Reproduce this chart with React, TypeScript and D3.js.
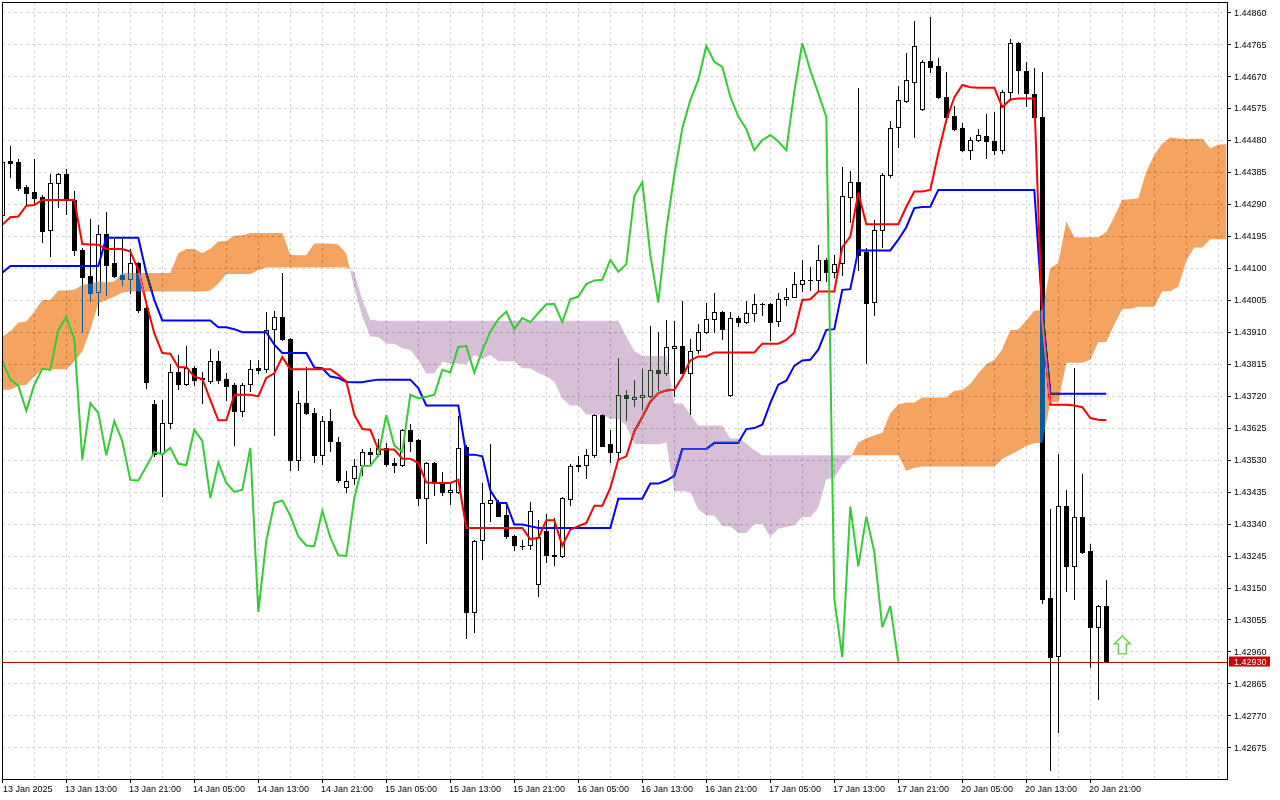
import { useMemo } from "react";
import * as d3 from "d3";

const W = 1280;
const H = 800;
const PLOT = { left: 2, right: 1227, top: 2, bottom: 779 };

// hourly bars, 13 Jan 05:00 .. 20 Jan 23:00
const OPEN = [
  1.44258, 1.44418, 1.44415, 1.44341, 1.44326, 1.44312, 1.44212, 1.44352, 1.44379, 1.44302,
  1.44154, 1.44077, 1.44028, 1.442, 1.44114, 1.4408, 1.44067, 1.44114, 1.43982, 1.43696,
  1.4355, 1.43639, 1.4379, 1.43755, 1.43804, 1.43774, 1.43763, 1.43824, 1.43771, 1.43753,
  1.43676, 1.43755, 1.43802, 1.43799, 1.43918, 1.43954, 1.43889, 1.4353, 1.43698, 1.43669,
  1.43543, 1.43645, 1.43582, 1.43449, 1.43475, 1.43513, 1.43553, 1.43547, 1.43565, 1.4352,
  1.43513, 1.43619, 1.43588, 1.43416, 1.43521, 1.43461, 1.43434, 1.43434, 1.43569, 1.43077,
  1.43292, 1.43401, 1.43403, 1.43366, 1.43304, 1.43274, 1.43275, 1.43161, 1.43317, 1.43246,
  1.43244, 1.43413, 1.43514, 1.43513, 1.43543, 1.43663, 1.43577, 1.43553, 1.43723, 1.43711,
  1.43717, 1.4372, 1.43797, 1.43789, 1.43861, 1.43868, 1.43789, 1.43855, 1.4391, 1.43948,
  1.4397, 1.43723, 1.43951, 1.43939, 1.43966, 1.43994, 1.43992, 1.43941, 1.44007, 1.44015,
  1.44052, 1.44064, 1.44065, 1.44124, 1.44089, 1.44114, 1.44312, 1.44355, 1.44146, 1.44,
  1.44213, 1.44376, 1.44518, 1.44597, 1.44652, 1.44574, 1.44715, 1.447, 1.44607, 1.44552,
  1.44517, 1.4445, 1.4448, 1.44492, 1.44478, 1.4445, 1.44623, 1.44768, 1.44686, 1.44617,
  1.44548, 1.43119, 1.42945, 1.43392, 1.43213, 1.43361, 1.4326, 1.43032, 1.43095,
];
const HIGH = [
  1.44427, 1.44463, 1.44423, 1.44347, 1.44423, 1.44317, 1.4438, 1.44383, 1.44394, 1.44329,
  1.4416, 1.44245, 1.44227, 1.44265, 1.44186, 1.44186, 1.44157, 1.44118, 1.43987, 1.43708,
  1.43708, 1.43815, 1.43841, 1.43869, 1.43809, 1.43792, 1.4386, 1.43852, 1.43788, 1.43759,
  1.43759, 1.43827, 1.43827, 1.43968, 1.43973, 1.44085, 1.43892, 1.43733, 1.43805, 1.43685,
  1.43659, 1.43681, 1.43597, 1.43497, 1.43532, 1.43562, 1.43565, 1.43591, 1.4358, 1.43535,
  1.43622, 1.43637, 1.43592, 1.43524, 1.43524, 1.43492, 1.43465, 1.43659, 1.43574, 1.43292,
  1.43462, 1.43577, 1.43409, 1.43391, 1.43307, 1.43292, 1.43403, 1.43352, 1.43369, 1.43358,
  1.4342, 1.43518, 1.4354, 1.43563, 1.43667, 1.43667, 1.43618, 1.43832, 1.43736, 1.43768,
  1.43799, 1.43926, 1.43911, 1.43946, 1.43943, 1.44002, 1.43888, 1.43934, 1.43995, 1.44025,
  1.43973, 1.43969, 1.43958, 1.44003, 1.44022, 1.43997, 1.43997, 1.44025, 1.4404, 1.44089,
  1.44124, 1.44102, 1.44169, 1.4413, 1.44139, 1.44401, 1.44389, 1.44636, 1.44159, 1.44243,
  1.44382, 1.44537, 1.44641, 1.4474, 1.44834, 1.44718, 1.44847, 1.44725, 1.44684, 1.4458,
  1.44532, 1.4449, 1.44513, 1.44557, 1.44564, 1.44629, 1.4478, 1.44772, 1.44713, 1.44694,
  1.44682, 1.43384, 1.43548, 1.43441, 1.43802, 1.43488, 1.4328, 1.43099, 1.43173,
];
const LOW = [
  1.44249, 1.44369, 1.44332, 1.4429, 1.44294, 1.44178, 1.44137, 1.44282, 1.44261, 1.44139,
  1.43911, 1.44003, 1.43961, 1.44021, 1.44074, 1.44048, 1.44025, 1.4397, 1.43743, 1.43542,
  1.43421, 1.43624, 1.43741, 1.43752, 1.43753, 1.437, 1.43758, 1.43758, 1.43706, 1.43574,
  1.43659, 1.43735, 1.43789, 1.43791, 1.43604, 1.43886, 1.435, 1.43498, 1.43667, 1.43522,
  1.43517, 1.43555, 1.43464, 1.43434, 1.43458, 1.43485, 1.43515, 1.4354, 1.4351, 1.43493,
  1.4351, 1.43557, 1.43394, 1.43282, 1.43424, 1.43426, 1.43399, 1.43431, 1.43, 1.43018,
  1.43235, 1.43347, 1.43364, 1.43298, 1.43263, 1.43265, 1.43265, 1.43124, 1.43227, 1.43216,
  1.43242, 1.43394, 1.43497, 1.43475, 1.43538, 1.43571, 1.43523, 1.43532, 1.43649, 1.43691,
  1.43681, 1.43717, 1.43738, 1.43782, 1.4372, 1.43788, 1.43667, 1.43847, 1.43907, 1.43911,
  1.4389, 1.4372, 1.43928, 1.43936, 1.43943, 1.43961, 1.43886, 1.43928, 1.4399, 1.44014,
  1.4403, 1.44035, 1.4403, 1.4406, 1.44074, 1.4408, 1.44238, 1.44094, 1.43817, 1.43961,
  1.44161, 1.44369, 1.44461, 1.44594, 1.4449, 1.4457, 1.44684, 1.44606, 1.44535, 1.4451,
  1.44448, 1.44425, 1.44476, 1.44426, 1.44438, 1.44443, 1.44599, 1.44621, 1.44582, 1.44546,
  1.43104, 1.42609, 1.4272, 1.43139, 1.43117, 1.43254, 1.42913, 1.4282, 1.4293,
];
const CLOSE = [
  1.44416, 1.44411, 1.44339, 1.44322, 1.44309, 1.44211, 1.44352, 1.44379, 1.44302, 1.44152,
  1.44074, 1.44025, 1.442, 1.4411, 1.44077, 1.44067, 1.44114, 1.43976, 1.4376, 1.43548,
  1.43639, 1.4379, 1.43755, 1.43804, 1.43768, 1.43771, 1.43824, 1.43768, 1.4375, 1.43676,
  1.43753, 1.438, 1.43797, 1.43915, 1.43954, 1.43888, 1.4353, 1.43698, 1.43669, 1.43543,
  1.43645, 1.43585, 1.4347, 1.43468, 1.4351, 1.43553, 1.43546, 1.43565, 1.43518, 1.43514,
  1.43619, 1.43586, 1.43416, 1.43521, 1.43461, 1.43434, 1.43441, 1.43565, 1.43077, 1.43289,
  1.43401, 1.43409, 1.43364, 1.43302, 1.43275, 1.43273, 1.43378, 1.43299, 1.43246, 1.43244,
  1.43416, 1.43511, 1.43512, 1.43543, 1.43663, 1.43572, 1.43553, 1.43723, 1.43713, 1.43717,
  1.43723, 1.43797, 1.43789, 1.43865, 1.43868, 1.43789, 1.43854, 1.4391, 1.43948, 1.4397,
  1.43918, 1.43951, 1.43939, 1.43966, 1.43992, 1.43993, 1.43939, 1.44007, 1.44015, 1.44052,
  1.44063, 1.44065, 1.44124, 1.44089, 1.44111, 1.44314, 1.44355, 1.44139, 1.43997, 1.44213,
  1.44377, 1.44515, 1.44599, 1.44659, 1.4476, 1.44713, 1.44698, 1.44609, 1.4455, 1.44513,
  1.4445, 1.4448, 1.44495, 1.44476, 1.4445, 1.44624, 1.44768, 1.44687, 1.44619, 1.44548,
  1.43117, 1.42943, 1.43391, 1.43213, 1.43361, 1.43256, 1.43032, 1.43095, 1.4293,
];

// Ichimoku lines
const TENKAN = [
  1.44228, 1.44251, 1.44253, 1.44285, 1.44287, 1.44302, 1.44302, 1.44302, 1.44302, 1.44302,
  1.44171, 1.4417, 1.44169, 1.44156, 1.44156, 1.44156, 1.44149, 1.44094, 1.43995, 1.43906,
  1.43847, 1.43845, 1.43805, 1.43805, 1.43777, 1.4377, 1.43708, 1.43647, 1.43647, 1.43723,
  1.43723, 1.43723, 1.43718, 1.43773, 1.43787, 1.43835, 1.43799, 1.43799, 1.43799, 1.43799,
  1.43799, 1.43799, 1.43782, 1.43763, 1.43664, 1.43621, 1.43619, 1.4356, 1.4356, 1.4356,
  1.43533, 1.43533, 1.4352, 1.43462, 1.43461, 1.43461, 1.43461, 1.4347, 1.43327, 1.43327,
  1.43327, 1.43327, 1.43327, 1.43327, 1.43327, 1.43327, 1.43294, 1.43297, 1.4335, 1.4335,
  1.43274, 1.43322, 1.43332, 1.43342, 1.43393, 1.43393, 1.43446, 1.4353, 1.4354, 1.43614,
  1.43657, 1.43703, 1.43728, 1.43736, 1.43738, 1.43776, 1.43825, 1.43837, 1.43837, 1.43849,
  1.43849, 1.43849, 1.43849, 1.43849, 1.43849, 1.43875, 1.43875, 1.43875, 1.43886, 1.43908,
  1.44005, 1.44007, 1.4403, 1.4403, 1.4403, 1.44162, 1.44193, 1.44324, 1.4423, 1.4423,
  1.4423, 1.4423, 1.4423, 1.44282, 1.44327, 1.44327, 1.44332, 1.44441, 1.4454, 1.44607,
  1.44644, 1.44637, 1.44636, 1.44636, 1.44636, 1.44578, 1.44601, 1.44604, 1.44604, 1.44604,
  1.43943, 1.43693, 1.43693, 1.43693, 1.43691, 1.43686, 1.43654, 1.43649, 1.43647,
];
const KIJUN = [
  1.44086, 1.44106, 1.44106, 1.44106, 1.44106, 1.44106, 1.44106, 1.44106, 1.44106, 1.44106,
  1.44106, 1.44106, 1.44106, 1.4419, 1.4419, 1.4419, 1.4419, 1.4419, 1.44085, 1.44005,
  1.43944, 1.43944, 1.43944, 1.43944, 1.43944, 1.43944, 1.43944, 1.43924, 1.43924, 1.43918,
  1.43909, 1.43909, 1.43909, 1.43909, 1.43872, 1.43847, 1.43847, 1.43847, 1.43847, 1.43804,
  1.43802, 1.43777, 1.43773, 1.43761, 1.4376, 1.4376, 1.43765, 1.43768, 1.43768, 1.43768,
  1.43768, 1.43768, 1.43743, 1.43691, 1.43691, 1.43691, 1.43691, 1.43691, 1.43545, 1.43545,
  1.4354, 1.43439, 1.43401, 1.43401, 1.43337, 1.43337, 1.43332, 1.43327, 1.43327, 1.43327,
  1.43327, 1.43327, 1.43327, 1.43327, 1.43327, 1.43327, 1.43327, 1.43414, 1.43414, 1.43414,
  1.43414, 1.43459, 1.43459, 1.43468, 1.43482, 1.43562, 1.43562, 1.43562, 1.43562, 1.4358,
  1.4358, 1.4358, 1.4358, 1.43621, 1.43624, 1.43634, 1.43698, 1.43753, 1.43765, 1.43809,
  1.43825, 1.43827, 1.43857, 1.43916, 1.43918, 1.44035, 1.44037, 1.44152, 1.44152, 1.44152,
  1.44152, 1.44152, 1.44184, 1.44221, 1.44278, 1.44281, 1.44282, 1.44332, 1.44332, 1.44332,
  1.44332, 1.44332, 1.44332, 1.44332, 1.44332, 1.44332, 1.44332, 1.44332, 1.44332, 1.44332,
  1.43976, 1.43726, 1.43726, 1.43726, 1.43726, 1.43726, 1.43726, 1.43726, 1.43726,
];
// cloud spans, already shifted 26 bars ahead
const SPAN_A = [
  1.43896, 1.43911, 1.43938, 1.43941, 1.4397, 1.44005, 1.44005, 1.44033, 1.44033, 1.44035,
  1.4405, 1.44053, 1.4406, 1.44057, 1.4406, 1.44085, 1.44085, 1.44085, 1.44085, 1.44085,
  1.44085, 1.44085, 1.44144, 1.44156, 1.44156, 1.44144, 1.44157, 1.44179, 1.4418, 1.44196,
  1.44197, 1.44204, 1.44204, 1.44204, 1.44204, 1.44204, 1.44139, 1.44138, 1.44138, 1.44173,
  1.44173, 1.44173, 1.4417, 1.44142, 1.4404, 1.43956, 1.43896, 1.43895, 1.43875, 1.43875,
  1.43861, 1.43857, 1.43826, 1.43786, 1.43786, 1.43821, 1.43816, 1.43816, 1.43814, 1.43841,
  1.4383, 1.43841, 1.43823, 1.43823, 1.43823, 1.43802, 1.43801, 1.43788, 1.43778, 1.43762,
  1.43712, 1.43691, 1.43692, 1.43664, 1.43664, 1.43664, 1.43651, 1.43651, 1.43632, 1.43577,
  1.43576, 1.43576, 1.43576, 1.43581, 1.43436, 1.43436, 1.43434, 1.43383, 1.43364, 1.43364,
  1.43332, 1.43332, 1.43313, 1.43312, 1.43339, 1.43339, 1.43301, 1.43325, 1.4333, 1.43335,
  1.4336, 1.4336, 1.43387, 1.43472, 1.43477, 1.43514, 1.43536, 1.43581, 1.43594, 1.43602,
  1.4361, 1.43669, 1.43694, 1.437, 1.437, 1.43715, 1.43715, 1.43715, 1.43715, 1.43735,
  1.43737, 1.43755, 1.43787, 1.43814, 1.43826, 1.43859, 1.43915, 1.43917, 1.43944, 1.43973,
  1.43974, 1.44099, 1.44115, 1.44238, 1.44191, 1.44191, 1.44191, 1.44191, 1.44207, 1.44252,
  1.44303, 1.44304, 1.44307, 1.44387, 1.44436, 1.4447, 1.44488, 1.44485, 1.44484, 1.44484,
  1.44484, 1.44455, 1.44467, 1.44468,
];
const SPAN_B = [
  1.43738, 1.43738, 1.4375, 1.43753, 1.43777, 1.43799, 1.43799, 1.43799, 1.43799, 1.43822,
  1.43852, 1.43916, 1.43995, 1.44005, 1.44015, 1.44027, 1.4403, 1.4403, 1.4403, 1.4403,
  1.4403, 1.4403, 1.4403, 1.4403, 1.4403, 1.4403, 1.44033, 1.44053, 1.44082, 1.44082,
  1.44082, 1.44082, 1.44094, 1.44101, 1.44101, 1.44101, 1.44101, 1.44101, 1.44101, 1.44101,
  1.44101, 1.44101, 1.44101, 1.44101, 1.44088, 1.44005, 1.43946, 1.43943, 1.43943, 1.43943,
  1.43943, 1.43943, 1.43943, 1.43943, 1.43943, 1.43943, 1.43943, 1.43943, 1.43943, 1.43943,
  1.43943, 1.43943, 1.43943, 1.43943, 1.43943, 1.43943, 1.43943, 1.43943, 1.43943, 1.43943,
  1.43943, 1.43943, 1.43943, 1.43943, 1.43943, 1.43943, 1.43943, 1.43943, 1.43896, 1.43853,
  1.43838, 1.43838, 1.43838, 1.43838, 1.43697, 1.43697, 1.43664, 1.43632, 1.43632, 1.43632,
  1.43632, 1.43593, 1.43593, 1.43578, 1.43559, 1.43543, 1.43543, 1.43543, 1.43543, 1.43543,
  1.43543, 1.43543, 1.43543, 1.43543, 1.43543, 1.43543, 1.43543, 1.43543, 1.43543, 1.43543,
  1.43543, 1.43543, 1.43543, 1.43497, 1.43505, 1.4351, 1.4351, 1.4351, 1.4351, 1.4351,
  1.4351, 1.4351, 1.4351, 1.4351, 1.4351, 1.43533, 1.43545, 1.43557, 1.43571, 1.43579,
  1.4358, 1.43701, 1.43701, 1.43818, 1.43818, 1.43818, 1.43827, 1.4388, 1.4388, 1.43932,
  1.43979, 1.43979, 1.43985, 1.43985, 1.43985, 1.44031, 1.44031, 1.44044, 1.44121, 1.44161,
  1.44161, 1.44185, 1.44185, 1.44185,
];
const CHIKOU_SHIFT = 26;
const CURRENT_PRICE = 1.4293;
const SIGNAL_BAR = 140;
const SIGNAL_PRICE = 1.43006;

const PRICE_TICKS = [
  1.4486, 1.44765, 1.4467, 1.44575, 1.4448, 1.44385, 1.4429, 1.44195, 1.441, 1.44005, 1.4391, 1.43815,
  1.4372, 1.43625, 1.4353, 1.43435, 1.4334, 1.43245, 1.4315, 1.43055, 1.4296, 1.42865, 1.4277, 1.42675,
];
const TIME_LABELS = [
  "13 Jan 2025", "13 Jan 13:00", "13 Jan 21:00", "14 Jan 05:00", "14 Jan 13:00", "14 Jan 21:00",
  "15 Jan 05:00", "15 Jan 13:00", "15 Jan 21:00", "16 Jan 05:00", "16 Jan 13:00", "16 Jan 21:00",
  "17 Jan 05:00", "17 Jan 13:00", "17 Jan 21:00", "20 Jan 05:00", "20 Jan 13:00", "20 Jan 21:00",
];
const LABEL_EVERY = 8;

const FONT = "'Liberation Sans', Arial, sans-serif";

type CloudPt = { i: number; a: number; b: number };

export default function App() {
  const x = useMemo(() => d3.scaleLinear().domain([0, 153]).range([2.3, 1226.3]), []);
  const y = useMemo(() => d3.scaleLinear().domain([1.42675, 1.4486]).range([747.3, 12.3]), []);

  const line = d3
    .line<number>()
    .x((_, i) => x(i))
    .y((d) => y(d));

  // add crossing points so the two fills meet cleanly
  const cloudPts: CloudPt[] = [];
  for (let i = 0; i < SPAN_A.length; i++) {
    cloudPts.push({ i, a: SPAN_A[i], b: SPAN_B[i] });
    if (i < SPAN_A.length - 1) {
      const d0 = SPAN_A[i] - SPAN_B[i];
      const d1 = SPAN_A[i + 1] - SPAN_B[i + 1];
      if (d0 * d1 < 0) {
        const t = d0 / (d0 - d1);
        const a = SPAN_A[i] + t * (SPAN_A[i + 1] - SPAN_A[i]);
        cloudPts.push({ i: i + t, a, b: a });
      }
    }
  }
  const upArea = d3
    .area<CloudPt>()
    .x((p) => x(p.i))
    .y0((p) => y(Math.min(p.a, p.b)))
    .y1((p) => y(p.a));
  const downArea = d3
    .area<CloudPt>()
    .x((p) => x(p.i))
    .y0((p) => y(Math.min(p.a, p.b)))
    .y1((p) => y(p.b));

  const chikou = CLOSE.slice(CHIKOU_SHIFT);
  const snap = (v: number) => Math.round(v) + 0.5;

  const gridX = d3.range(0, 154, 4);
  const cy = y(CURRENT_PRICE);
  const sx = x(SIGNAL_BAR);
  const sy = y(SIGNAL_PRICE);

  return (
    <svg
      width={W}
      height={H}
      style={{ position: "absolute", left: 0, top: 0, display: "block" }}
      fontFamily={FONT}
    >
      <defs>
        <clipPath id="plot">
          <rect x={PLOT.left + 0.5} y={PLOT.top + 0.5} width={PLOT.right - PLOT.left - 0.5} height={PLOT.bottom - PLOT.top - 0.5} />
        </clipPath>
      </defs>
      <rect x={0} y={0} width={W} height={H} fill="#ffffff" />

      {/* grid */}
      <g stroke="#d6d6d6" strokeDasharray="3,3" strokeWidth={1}>
        {PRICE_TICKS.map((p) => (
          <line key={`gy${p}`} x1={PLOT.left} x2={PLOT.right} y1={snap(y(p))} y2={snap(y(p))} />
        ))}
        {gridX.map((i) => (
          <line key={`gx${i}`} x1={snap(x(i))} x2={snap(x(i))} y1={PLOT.top} y2={PLOT.bottom} />
        ))}
      </g>

      {/* candles */}
      <g clipPath="url(#plot)">
        {OPEN.map((o, i) => {
          const c = CLOSE[i];
          const cx = Math.round(x(i));
          const top = Math.round(y(Math.max(o, c)));
          const bot = Math.round(y(Math.min(o, c)));
          const bull = c >= o;
          return (
            <g key={`c${i}`}>
              <line x1={cx + 0.5} x2={cx + 0.5} y1={Math.round(y(HIGH[i]))} y2={Math.round(y(LOW[i])) + 1} stroke="#000" />
              {bot - top < 1 ? (
                <line x1={cx - 2} x2={cx + 3} y1={top + 0.5} y2={top + 0.5} stroke="#000" />
              ) : (
                <rect x={cx - 1.5} y={top + 0.5} width={4} height={bot - top} fill={bull ? "#fff" : "#000"} stroke="#000" />
              )}
            </g>
          );
        })}
      </g>

      {/* tenkan / kijun */}
      <path d={line(KIJUN) ?? ""} fill="none" stroke="#0000ff" strokeWidth={2} />
      <path d={line(TENKAN) ?? ""} fill="none" stroke="#ff0000" strokeWidth={2} />

      {/* kumo, xor-style over whatever is below */}
      <path d={upArea(cloudPts) ?? ""} fill="#0b5b9f" style={{ mixBlendMode: "difference" }} />
      <path d={downArea(cloudPts) ?? ""} fill="#274027" style={{ mixBlendMode: "difference" }} />

      {/* chikou */}
      <path d={line(chikou) ?? ""} fill="none" stroke="#32cd32" strokeWidth={2} />

      {/* current price line */}
      <line x1={PLOT.left} x2={PLOT.right} y1={snap(cy)} y2={snap(cy)} stroke="#b00000" strokeWidth={1} />

      {/* signal arrow */}
      <path
        d={`M${sx},${sy} L${sx + 8},${sy + 8} L${sx + 4},${sy + 8} L${sx + 4},${sy + 18} L${sx - 4},${sy + 18} L${sx - 4},${sy + 8} L${sx - 8},${sy + 8} Z`}
        fill="#ffffff"
        stroke="#66cc44"
        strokeWidth={1.3}
      />

      {/* frame */}
      <rect
        x={PLOT.left + 0.5}
        y={PLOT.top + 0.5}
        width={PLOT.right - PLOT.left}
        height={PLOT.bottom - PLOT.top}
        fill="none"
        stroke="#000"
      />

      {/* price axis */}
      <g fontSize={9} fill="#000">
        {PRICE_TICKS.map((p) => (
          <g key={`pt${p}`}>
            <line x1={PLOT.right} x2={PLOT.right + 4} y1={snap(y(p))} y2={snap(y(p))} stroke="#000" />
            <text x={PLOT.right + 7} y={y(p) + 3.3}>
              {p.toFixed(5)}
            </text>
          </g>
        ))}
        <rect x={PLOT.right + 2} y={cy - 5} width={41} height={10} fill="#c80000" />
        <text x={PLOT.right + 7} y={cy + 3.3} fill="#fff">
          {CURRENT_PRICE.toFixed(5)}
        </text>
      </g>

      {/* time axis */}
      <g fontSize={9} fill="#000">
        {TIME_LABELS.map((t, k) => {
          const tx = Math.round(x(k * LABEL_EVERY));
          return (
            <g key={`tl${k}`}>
              <line x1={tx + 0.5} x2={tx + 0.5} y1={PLOT.bottom} y2={PLOT.bottom + 4} stroke="#000" />
              <text x={tx + (k === 0 ? 1 : -1)} y={792}>
                {t}
              </text>
            </g>
          );
        })}
      </g>
    </svg>
  );
}
